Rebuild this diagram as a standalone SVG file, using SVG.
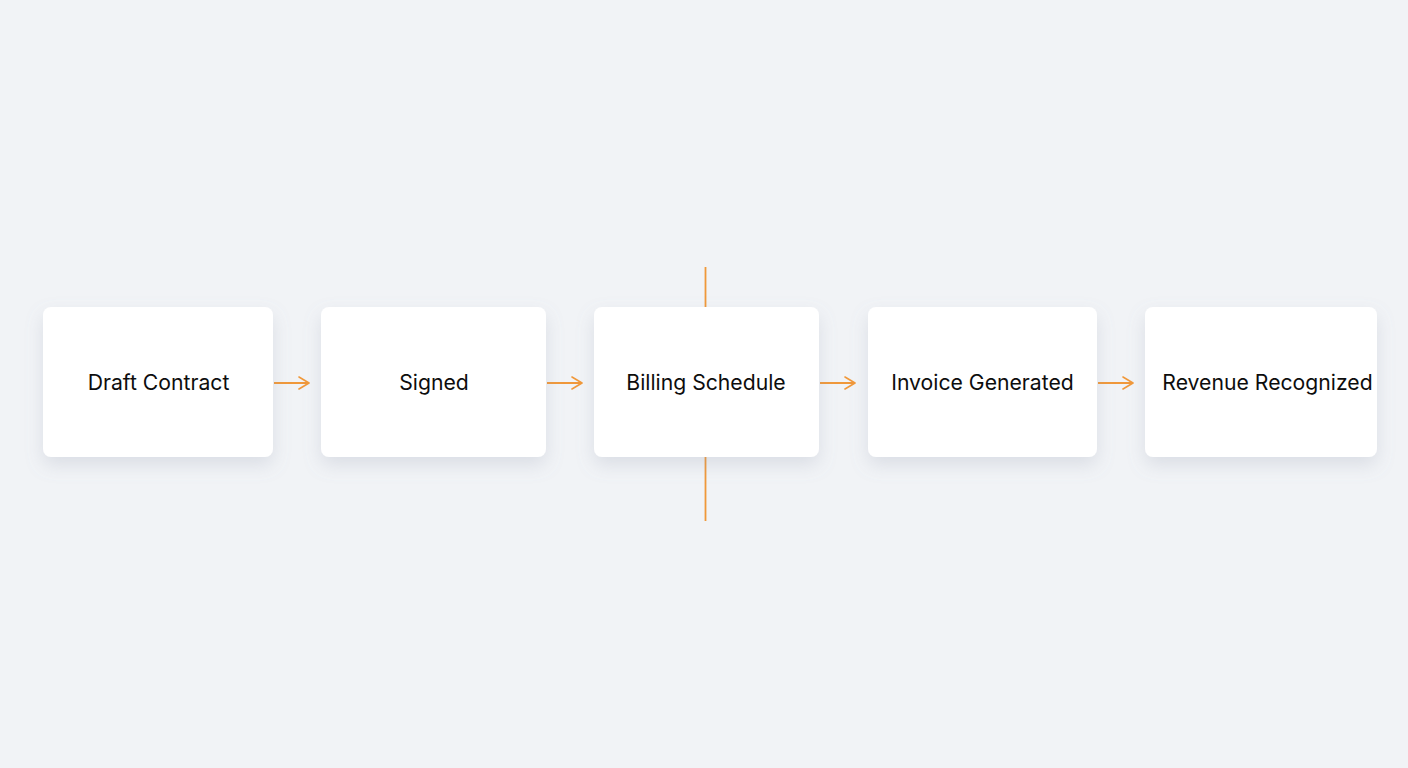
<svg xmlns="http://www.w3.org/2000/svg" width="1408" height="768" viewBox="0 0 1408 768">
<defs>
<filter id="sh" x="-20%" y="-20%" width="140%" height="160%">
<feDropShadow dx="0" dy="8" stdDeviation="9" flood-color="#8a93a8" flood-opacity="0.22"/>
</filter>
<marker id="ah" viewBox="0 0 12 14" refX="11" refY="7" markerWidth="12" markerHeight="14" markerUnits="userSpaceOnUse" orient="auto">
<path d="M1,1 L11,7 L1,13" fill="none" stroke="#f0983a" stroke-width="1.6" stroke-linecap="round" stroke-linejoin="round"/>
</marker>
</defs>
<style>
.box{fill:#ffffff;filter:url(#sh)}
.lbl{font-family:Inter,"Noto Sans",sans-serif;font-size:21.2px;fill:#0d0d0d;text-anchor:middle}
.con{stroke:#f0983a;stroke-width:1.8;fill:none}
</style>
<rect width="1408" height="768" fill="#f1f3f6"/>
<g id="connectors">
<line class="con" x1="274" y1="383" x2="309" y2="383" marker-end="url(#ah)"/>
<line class="con" x1="547" y1="383" x2="582" y2="383" marker-end="url(#ah)"/>
<line class="con" x1="820" y1="383" x2="855" y2="383" marker-end="url(#ah)"/>
<line class="con" x1="1098" y1="383" x2="1133" y2="383" marker-end="url(#ah)"/>
<line class="con" x1="705.5" y1="267" x2="705.5" y2="307"/>
<line class="con" x1="705.5" y1="457" x2="705.5" y2="521"/>
</g>
<g id="draft"><rect class="box" x="43" y="307" width="230" height="150" rx="8"/><text class="lbl" x="158.5" y="390">Draft Contract</text></g>
<g id="signed"><rect class="box" x="321" y="307" width="225" height="150" rx="8"/><text class="lbl" x="434" y="390">Signed</text></g>
<g id="billing"><rect class="box" x="594" y="307" width="225" height="150" rx="8"/><text class="lbl" x="706" y="390">Billing Schedule</text></g>
<g id="invoice"><rect class="box" x="868" y="307" width="229" height="150" rx="8"/><text class="lbl" x="982.5" y="390">Invoice Generated</text></g>
<g id="revenue"><rect class="box" x="1145" y="307" width="232" height="150" rx="8"/><text class="lbl" x="1267.5" y="390">Revenue Recognized</text></g>
</svg>
